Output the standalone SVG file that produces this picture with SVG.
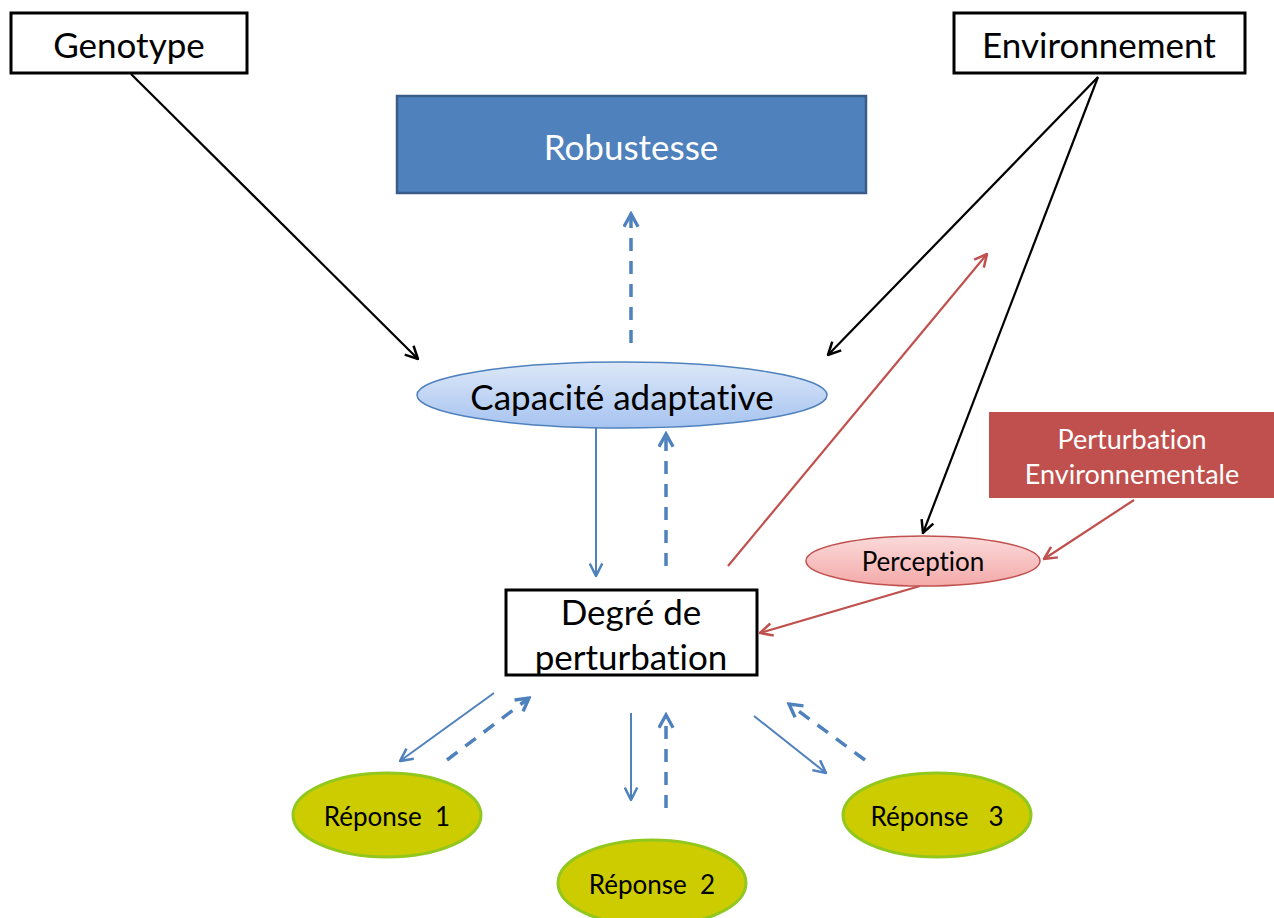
<svg xmlns="http://www.w3.org/2000/svg" width="1274" height="918" viewBox="0 0 1274 918">
<style>
.t{font-family:Lato,"Open Sans","Liberation Sans",sans-serif;text-anchor:middle;dominant-baseline:central;font-variant-ligatures:none;font-feature-settings:"liga" 0}
.big{font-size:35px;fill:#000}
.wb{font-size:35px;fill:#fff}
.sm{font-size:26px;fill:#000}
.sw{font-size:27px;fill:#fff}
.blk{stroke:#000;stroke-width:2.2;fill:none}
.red{stroke:#C0504D;stroke-width:2.2;fill:none}
.bl{stroke:#4F81BD;stroke-width:2;fill:none}
.bd{stroke:#4F81BD;stroke-width:3.5;fill:none;stroke-dasharray:13 10}
</style>
<defs>
<marker id="ak" viewBox="0 0 12 12" refX="11" refY="6" markerWidth="15" markerHeight="15" markerUnits="userSpaceOnUse" orient="auto"><path d="M1,1 L11,6 L1,11" fill="none" stroke="#000" stroke-width="2"/></marker>
<marker id="ar" viewBox="0 0 12 12" refX="11" refY="6" markerWidth="15" markerHeight="15" markerUnits="userSpaceOnUse" orient="auto"><path d="M1,1 L11,6 L1,11" fill="none" stroke="#C0504D" stroke-width="2"/></marker>
<marker id="ab" viewBox="0 0 12 12" refX="11" refY="6" markerWidth="15" markerHeight="15" markerUnits="userSpaceOnUse" orient="auto"><path d="M1,1 L11,6 L1,11" fill="none" stroke="#4F81BD" stroke-width="2"/></marker>
<marker id="abd" viewBox="0 0 12 12" refX="10" refY="6" markerWidth="17" markerHeight="17" markerUnits="userSpaceOnUse" orient="auto"><path d="M1,1 L10,6 L1,11" fill="none" stroke="#4F81BD" stroke-width="2.4"/></marker>
<linearGradient id="gb" x1="0" y1="0" x2="0" y2="1"><stop offset="0" stop-color="#dde8f8"/><stop offset="1" stop-color="#a6c3f0"/></linearGradient>
<linearGradient id="gr" x1="0" y1="0" x2="0" y2="1"><stop offset="0" stop-color="#fbdada"/><stop offset="1" stop-color="#f4a9a9"/></linearGradient>
</defs>
<g id="connectors">
<line class="blk" x1="131" y1="74" x2="418" y2="359" marker-end="url(#ak)"/>
<line class="blk" x1="1098" y1="77" x2="828" y2="355" marker-end="url(#ak)"/>
<line class="blk" x1="1098" y1="77" x2="923" y2="533" marker-end="url(#ak)"/>
<line class="red" x1="728" y1="566" x2="987" y2="254" marker-end="url(#ar)"/>
<line class="red" x1="1134" y1="500" x2="1044" y2="559" marker-end="url(#ar)"/>
<line class="red" x1="920" y1="586" x2="760" y2="633" marker-end="url(#ar)"/>
<line class="bl" x1="596" y1="421" x2="596" y2="576" marker-end="url(#ab)"/>
<line class="bd" x1="666" y1="566" x2="666" y2="434" marker-end="url(#abd)"/>
<line class="bd" x1="631" y1="343" x2="631" y2="214" marker-end="url(#abd)"/>
<line class="bl" x1="494" y1="693" x2="400" y2="761" marker-end="url(#ab)"/>
<line class="bd" x1="447" y1="760" x2="529" y2="698" marker-end="url(#abd)"/>
<line class="bl" x1="631" y1="713" x2="631" y2="800" marker-end="url(#ab)"/>
<line class="bd" x1="666" y1="808" x2="666" y2="715" marker-end="url(#abd)"/>
<line class="bl" x1="754" y1="716" x2="826" y2="773" marker-end="url(#ab)"/>
<line class="bd" x1="865" y1="760" x2="789" y2="704" marker-end="url(#abd)"/>
</g>
<g id="genotype"><rect x="11" y="13" width="236" height="60" fill="#fff" stroke="#000" stroke-width="3"/><text class="t big" x="129" y="44">Genotype</text></g>
<g id="environnement"><rect x="954" y="13" width="291" height="60" fill="#fff" stroke="#000" stroke-width="3"/><text class="t big" x="1099" y="44">Environnement</text></g>
<g id="robustesse"><rect x="397" y="96" width="469" height="97" fill="#4F81BD" stroke="#385D8A" stroke-width="2.5"/><text class="t wb" x="631" y="146">Robustesse</text></g>
<g id="capacite"><ellipse cx="622" cy="395" rx="205" ry="33" fill="url(#gb)" stroke="#4F81BD" stroke-width="1.5"/><text class="t big" x="622" y="396">Capacité adaptative</text></g>
<g id="degre"><rect x="506" y="590" width="251" height="85" fill="#fff" stroke="#000" stroke-width="3"/><text class="t big" x="631" y="611">Degré de</text><text class="t big" x="631" y="656">perturbation</text></g>
<g id="perturbation"><rect x="989" y="412" width="285" height="86" fill="#C0504D"/><text class="t sw" x="1132" y="438">Perturbation</text><text class="t sw" x="1132" y="473">Environnementale</text></g>
<g id="perception"><ellipse cx="923" cy="561" rx="117" ry="25" fill="url(#gr)" stroke="#C0504D" stroke-width="1.5"/><text class="t sm" x="923" y="561">Perception</text></g>
<g id="reponse1"><ellipse cx="387" cy="815" rx="94" ry="42" fill="#CCCC00" stroke="#92C81E" stroke-width="3"/><text class="t sm" x="387" y="816" xml:space="preserve">Réponse  1</text></g>
<g id="reponse2"><ellipse cx="652" cy="883" rx="94" ry="43" fill="#CCCC00" stroke="#92C81E" stroke-width="3"/><text class="t sm" x="652" y="884" xml:space="preserve">Réponse  2</text></g>
<g id="reponse3"><ellipse cx="937" cy="815" rx="94" ry="42" fill="#CCCC00" stroke="#92C81E" stroke-width="3"/><text class="t sm" x="937" y="816" xml:space="preserve">Réponse   3</text></g>
</svg>
